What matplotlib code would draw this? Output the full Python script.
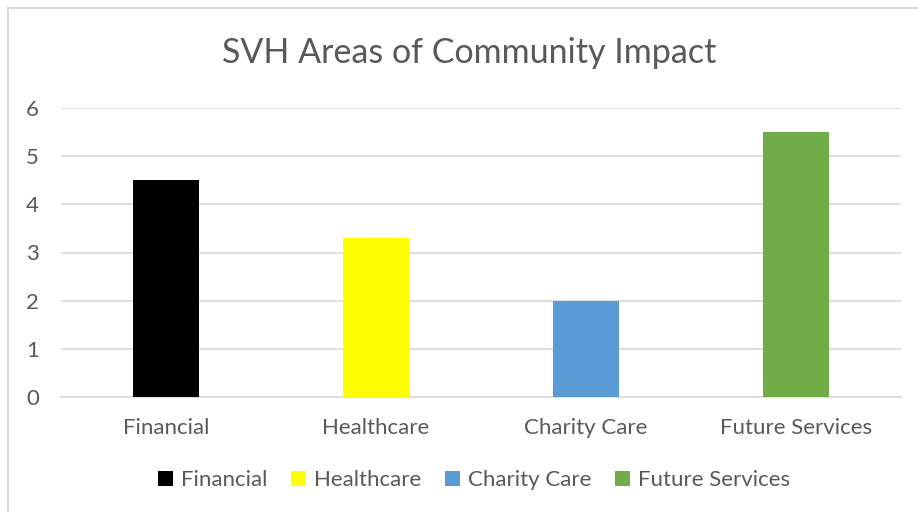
import matplotlib.pyplot as plt
from matplotlib.patches import Rectangle

# 数据
categories = ["Financial", "Healthcare", "Charity Care", "Future Services"]
values = [4.5, 3.3, 2.0, 5.5]
colors = ["#000000", "#ffff00", "#5b9bd5", "#70ad47"]
yticks = [0, 1, 2, 3, 4, 5, 6]

plt.rcParams["font.family"] = ["Lato", "DejaVu Sans"]
text_color = "#595959"
grid_color = "#d9d9d9"

fig = plt.figure(figsize=(9.18, 5.12), dpi=100)
ax = fig.add_axes([61 / 918, 115 / 512, 840 / 918, 289 / 512])

# 外边框
fig.patches.append(Rectangle((8 / 918, -0.01), 1.0, (512 - 8) / 512 + 0.01,
                             transform=fig.transFigure, fill=False,
                             edgecolor=grid_color, linewidth=1.5))

x = range(len(categories))
for i, (cat, val, col) in enumerate(zip(categories, values, colors)):
    ax.bar(i, val, width=0.314, color=col, label=cat, zorder=3)

ax.set_xlim(-0.5, len(categories) - 0.5)
ax.set_ylim(0, 6)
ax.set_yticks(yticks)
ax.set_xticks(list(x))
ax.set_xticklabels(categories)
ax.grid(axis="y", color=grid_color, linewidth=1.2, zorder=0)
for s in ["top", "right", "left"]:
    ax.spines[s].set_visible(False)
ax.spines["bottom"].set_color(grid_color)
ax.spines["bottom"].set_linewidth(1.2)
ax.tick_params(axis="both", length=0, labelsize=16, colors=text_color)
ax.tick_params(axis="x", pad=15)
ax.tick_params(axis="y", pad=16)

fig.text(469 / 918, 1 - 53 / 512, "SVH Areas of Community Impact",
         ha="center", va="center", fontsize=24.5, color=text_color)

leg = ax.legend(loc="center", bbox_to_anchor=(474 / 918, 1 - 480 / 512),
                bbox_transform=fig.transFigure, ncol=4, frameon=False,
                fontsize=16, handlelength=0.65, handleheight=0.65,
                handletextpad=0.35, columnspacing=1.1)
for t in leg.get_texts():
    t.set_color(text_color)

plt.savefig("out.png", dpi=100)
